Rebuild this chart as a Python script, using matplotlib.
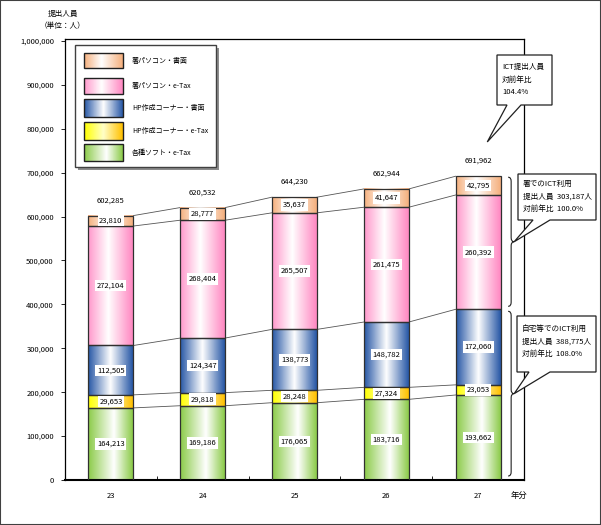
import numpy as np
import matplotlib
matplotlib.use('Agg')
import matplotlib.pyplot as plt
from matplotlib.colors import LinearSegmentedColormap
from matplotlib.patches import Rectangle, Polygon, PathPatch
from matplotlib.path import Path

plt.rcParams['font.family'] = ['Noto Sans CJK JP', 'DejaVu Sans']

# data (単位: 人)
years = ['23', '24', '25', '26', '27']
soft_etax = [164213, 169186, 176065, 183716, 193662]
hp_etax = [29653, 29818, 28248, 27324, 23053]
hp_paper = [112505, 124347, 138773, 148782, 172060]
office_etax = [272104, 268404, 265507, 261475, 260392]
office_paper = [23810, 28777, 35637, 41647, 42795]
totals = [602285, 620532, 644230, 662944, 691962]

series_names = ['各種ソフト・e-Tax', 'HP作成コーナー・e-Tax', 'HP作成コーナー・書面',
                '署パソコン・e-Tax', '署パソコン・書面']
yticks = [0, 100000, 200000, 300000, 400000, 500000, 600000, 700000, 800000, 900000, 1000000]

callout_texts = ['ICT提出人員\n対前年比\n104.4%',
                 '署でのICT利用\n提出人員  303,187人\n対前年比  100.0%',
                 '自宅等でのICT利用\n提出人員  388,775人\n対前年比  108.0%']

# horizontal gradients: edge colour -> white -> edge colour
gradients = [
    [(0, '#8CCB4A'), (0.58, '#FFFFFF'), (1, '#8CCB4A')],
    [(0, '#FFFF00'), (0.5, '#FFFFC8'), (1, '#FFC000')],
    [(0, '#2858A6'), (0.5, '#FFFFFF'), (1, '#2858A6')],
    [(0, '#FF99CC'), (0.45, '#FFFFFF'), (1, '#FF88C2')],
    [(0, '#F5B07E'), (0.45, '#FFFFFF'), (1, '#F5B07E')],
]
cmaps = [LinearSegmentedColormap.from_list('g%d' % k, g) for k, g in enumerate(gradients)]
ramp = np.linspace(0, 1, 64).reshape(1, -1)

W, H = 601, 525
fig = plt.figure(figsize=(W / 100, H / 100), dpi=100)
ax = fig.add_axes([65 / W, (H - 480) / H, 459 / W, 441 / H])

x = np.arange(len(years))
bw = 0.49
series = [soft_etax, hp_etax, hp_paper, office_etax, office_paper]
bottom = np.zeros(len(years))
levels = []
for s, vals in enumerate(series):
    vals = np.array(vals)
    for i in x:
        ax.imshow(ramp, cmap=cmaps[s], extent=(i - bw / 2, i + bw / 2, bottom[i], bottom[i] + vals[i]),
                  aspect='auto', interpolation='bilinear', zorder=2)
        ax.add_patch(Rectangle((i - bw / 2, bottom[i]), bw, vals[i], fill=False,
                               ec='#303030', lw=0.9, zorder=3))
        ax.text(i, bottom[i] + vals[i] / 2, f'{vals[i]:,}', ha='center', va='center', fontsize=5.5,
                zorder=5, bbox=dict(fc='white', ec='none', pad=1.2))
    bottom = bottom + vals
    levels.append(bottom.copy())

# connector lines between bars
for lev in levels:
    for i in range(len(years) - 1):
        ax.plot([i + bw / 2, i + 1 - bw / 2], [lev[i], lev[i + 1]], color='#555555', lw=0.6, zorder=1)

for i, t in enumerate(totals):
    ax.annotate(f'{t:,}', (i, t), xytext=(0, 8), textcoords='offset points',
                ha='center', va='bottom', fontsize=5.5)

ax.set_xlim(-0.5, len(years) - 0.5)
ax.set_ylim(0, 1004500)
ax.set_yticks(yticks)
ax.set_yticklabels([f'{v:,}' for v in yticks], fontsize=5.5)
ax.set_xticks(x)
ax.set_xticklabels(years, fontsize=5.5)
ax.set_xticks(x[:-1] + 0.5, minor=True)
ax.tick_params(axis='x', which='major', length=0, pad=9)
ax.tick_params(axis='x', which='minor', direction='in', length=3)
ax.tick_params(axis='y', length=3, width=0.6, pad=5)
for sp in ax.spines.values():
    sp.set_linewidth(0.9)
ax.spines['bottom'].set_linewidth(1.5)


def to_px(xd, yd):
    dx, dy = ax.transData.transform((xd, yd))
    return dx, H - dy


# overlay in pixel coordinates for legend, braces and callouts
ov = fig.add_axes([0, 0, 1, 1], zorder=10)
ov.set_xlim(0, W)
ov.set_ylim(H, 0)
ov.axis('off')

# legend with shadow
ov.add_patch(Rectangle((78, 48), 141, 122, fc='#8C8C8C', ec='none', zorder=1))
ov.add_patch(Rectangle((75, 45), 141, 122, fc='white', ec='#404040', lw=1, zorder=2))
swatch_rows = [(53, 68), (78, 94), (99, 117), (122, 140), (144, 161)]
for k, (y0, y1) in enumerate(swatch_rows):
    s = len(series) - 1 - k
    ov.imshow(ramp, cmap=cmaps[s], extent=(84, 123, y1, y0), aspect='auto',
              interpolation='bilinear', zorder=3)
    ov.add_patch(Rectangle((84, y0), 39, y1 - y0, fill=False, ec='#202020', lw=1, zorder=4))
    ov.text(132, (y0 + y1) / 2, series_names[s], ha='left', va='center', fontsize=5, zorder=4)
ov.set_xlim(0, W)
ov.set_ylim(H, 0)


def brace(xp, ytop, ybot, d=3):
    mid = (ytop + ybot) / 2
    verts = [(xp - d, ytop), (xp, ytop), (xp, ytop + d + 1),
             (xp, mid - d - 1), (xp, mid), (xp + d, mid), (xp, mid), (xp, mid + d + 1),
             (xp, ybot - d - 1), (xp, ybot), (xp - d, ybot)]
    codes = [Path.MOVETO, Path.CURVE3, Path.CURVE3,
             Path.LINETO, Path.CURVE3, Path.CURVE3, Path.CURVE3, Path.CURVE3,
             Path.LINETO, Path.CURVE3, Path.CURVE3]
    ov.add_patch(PathPatch(Path(verts, codes), fill=False, ec='#202020', lw=0.8, zorder=5))
    return xp + d, mid


last = len(years) - 1
bx, _ = to_px(last + 0.36, 0)
_, y_total = to_px(last, levels[-1][last])
_, y_blue = to_px(last, levels[2][last])
_, y_zero = to_px(last, 0)
tip_up = brace(bx, y_total + 1, y_blue - 3)
tip_low = brace(bx, y_blue + 2, y_zero - 4)
tip_top = to_px(last + 0.1, 770000)


def callout(x0, y0, x1, y1, b0, b1, tip, text, tx, ty):
    pts = [(x0, y0), (x1, y0), (x1, y1), (b1, y1), tip, (b0, y1), (x0, y1)]
    ov.add_patch(Polygon(pts, closed=True, fc='white', ec='#202020', lw=0.9, zorder=6))
    ov.text(tx, ty, text, ha='left', va='top', fontsize=5.5, linespacing=1.75, zorder=7)


callout(497, 55, 552, 105, 507, 521, tip_top, callout_texts[0], 502, 63)
callout(518, 174, 596, 220, 533, 550, tip_up, callout_texts[1], 523, 180)
callout(517, 316, 596, 372, 529, 550, tip_low, callout_texts[2], 522, 325)

ov.text(63, 20, '提出人員\n（単位：人）', ha='center', va='center', fontsize=5.5, linespacing=1.6)
ov.text(519, 495, '年分', ha='center', va='center', fontsize=6)

fig.patches.append(Rectangle((0, 0), 1, 1, transform=fig.transFigure, fill=False,
                             ec='#404040', lw=1.5))

fig.savefig('out.png', dpi=100)
